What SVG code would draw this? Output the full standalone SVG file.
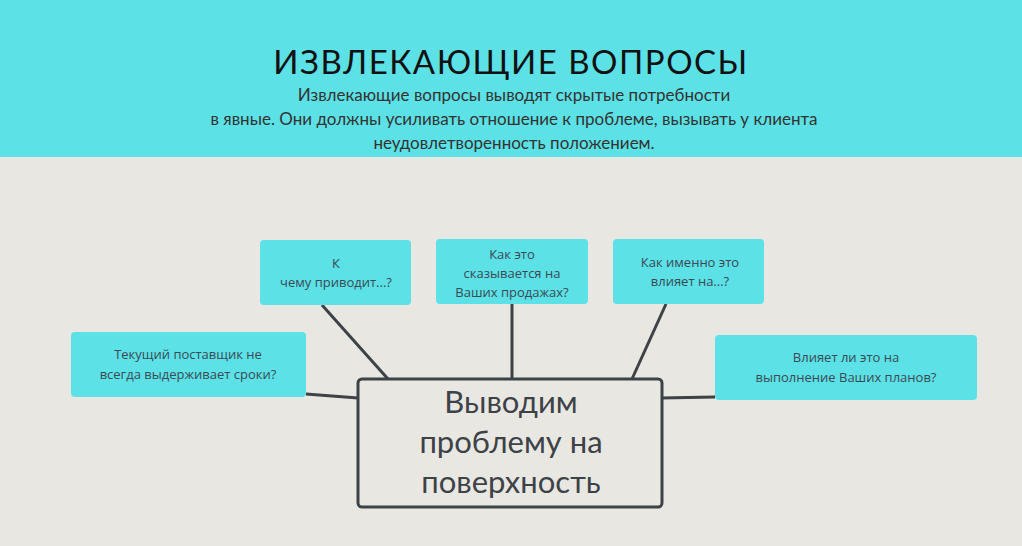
<svg xmlns="http://www.w3.org/2000/svg" width="1022" height="546" viewBox="0 0 1022 546">
<style>
.box{fill:#5ce1e6;}
.t{font-family:"Open Sans","Liberation Sans",sans-serif;font-size:13px;fill:#3b4a55;text-anchor:middle;}
.c line{stroke:#3d4247;stroke-width:3;}
</style>
<rect width="1022" height="546" fill="#e9e7e2"/>
<rect width="1022" height="157" fill="#5ce1e6"/>
<text x="511" y="74" font-family="Lato,'Liberation Sans',sans-serif" font-size="33" letter-spacing="1.5" fill="#111" text-anchor="middle">ИЗВЛЕКАЮЩИЕ ВОПРОСЫ</text>
<g font-family="Lato,'Liberation Sans',sans-serif" font-size="17" fill="#333" text-anchor="middle">
<text x="514" y="101">Извлекающие вопросы выводят скрытые потребности</text>
<text x="514" y="125">в явные. Они должны усиливать отношение к проблеме, вызывать  у клиента</text>
<text x="514" y="149">неудовлетворенность положением.</text>
</g>
<g class="c">
<line x1="306" y1="394" x2="358" y2="398"/>
<line x1="322" y1="305" x2="388" y2="379"/>
<line x1="512" y1="304" x2="512" y2="379"/>
<line x1="666" y1="304" x2="632" y2="379"/>
<line x1="715" y1="397" x2="661" y2="398"/>
</g>
<g id="n-left"><rect class="box" x="71" y="332" width="235" height="65" rx="4"/>
<text class="t" x="188" y="359">Текущий поставщик не</text><text class="t" x="188" y="379">всегда выдерживает сроки?</text></g>
<g id="n-k"><rect class="box" x="260" y="240" width="151" height="65" rx="4"/>
<text class="t" x="336" y="268">К</text><text class="t" x="336" y="287">чему приводит...?</text></g>
<g id="n-kak"><rect class="box" x="436" y="239" width="152" height="65" rx="4"/>
<text class="t" x="512" y="259">Как это</text><text class="t" x="512" y="278">сказывается на</text><text class="t" x="512" y="297">Ваших продажах?</text></g>
<g id="n-kakim"><rect class="box" x="613" y="239" width="151" height="65" rx="4"/>
<text class="t" x="690" y="267">Как именно это</text><text class="t" x="690" y="286">влияет на...?</text></g>
<g id="n-right"><rect class="box" x="715" y="335" width="262" height="65" rx="4"/>
<text class="t" x="846" y="362">Влияет ли это на</text><text class="t" x="846" y="382">выполнение Ваших планов?</text></g>
<g id="n-center"><rect x="358" y="379" width="304" height="128" rx="4" fill="#e9e7e2" stroke="#3d4247" stroke-width="3"/>
<g font-family="Lato,'Liberation Sans',sans-serif" font-size="31" fill="#3d4247" text-anchor="middle">
<text x="511" y="413">Выводим</text><text x="511" y="453">проблему на</text><text x="511" y="493">поверхность</text></g></g>
</svg>
